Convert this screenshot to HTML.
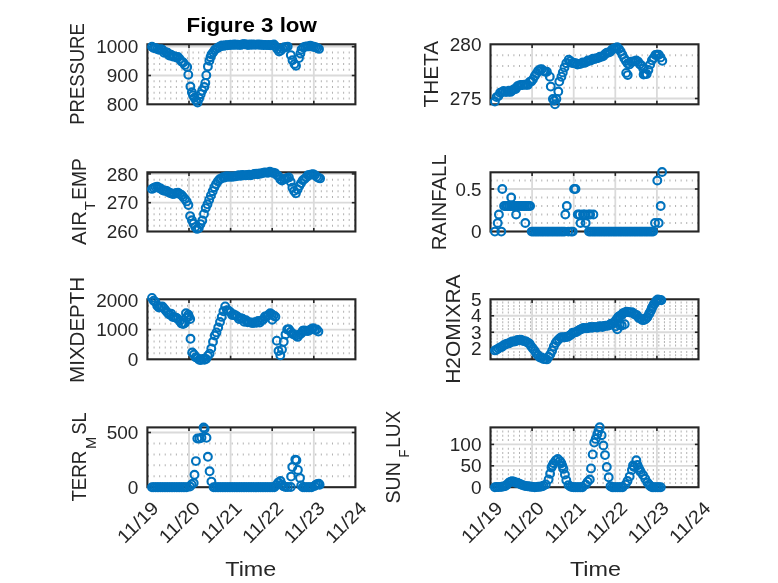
<!DOCTYPE html>
<html><head><meta charset="utf-8"><title>Figure 3 low</title>
<style>
html,body{margin:0;padding:0;background:#fff;}
svg{display:block;font-family:"Liberation Sans",sans-serif;will-change:transform;}
</style></head><body>
<svg width="778" height="583" viewBox="0 0 778 583">
<rect width="778" height="583" fill="#fff"/>
<line x1="148.00" y1="98.54" x2="355.40" y2="98.54" stroke="#b2b2b2" stroke-width="2.0" stroke-dasharray="1.0 4.575" />
<line x1="148.00" y1="92.78" x2="355.40" y2="92.78" stroke="#b2b2b2" stroke-width="2.0" stroke-dasharray="1.0 4.575" />
<line x1="148.00" y1="87.02" x2="355.40" y2="87.02" stroke="#b2b2b2" stroke-width="2.0" stroke-dasharray="1.0 4.575" />
<line x1="148.00" y1="81.26" x2="355.40" y2="81.26" stroke="#b2b2b2" stroke-width="2.0" stroke-dasharray="1.0 4.575" />
<line x1="148.00" y1="69.74" x2="355.40" y2="69.74" stroke="#b2b2b2" stroke-width="2.0" stroke-dasharray="1.0 4.575" />
<line x1="148.00" y1="63.98" x2="355.40" y2="63.98" stroke="#b2b2b2" stroke-width="2.0" stroke-dasharray="1.0 4.575" />
<line x1="148.00" y1="58.22" x2="355.40" y2="58.22" stroke="#b2b2b2" stroke-width="2.0" stroke-dasharray="1.0 4.575" />
<line x1="148.00" y1="52.46" x2="355.40" y2="52.46" stroke="#b2b2b2" stroke-width="2.0" stroke-dasharray="1.0 4.575" />
<line x1="189.00" y1="44.30" x2="189.00" y2="104.30" stroke="#dadada" stroke-width="1.8"/>
<line x1="230.60" y1="44.30" x2="230.60" y2="104.30" stroke="#dadada" stroke-width="1.8"/>
<line x1="272.20" y1="44.30" x2="272.20" y2="104.30" stroke="#dadada" stroke-width="1.8"/>
<line x1="313.80" y1="44.30" x2="313.80" y2="104.30" stroke="#dadada" stroke-width="1.8"/>
<line x1="147.40" y1="46.70" x2="355.40" y2="46.70" stroke="#dadada" stroke-width="1.8"/>
<line x1="147.40" y1="75.50" x2="355.40" y2="75.50" stroke="#dadada" stroke-width="1.8"/>
<rect x="147.40" y="44.30" width="208.00" height="60.00" fill="none" stroke="#262626" stroke-width="2.1"/>
<line x1="189.00" y1="104.30" x2="189.00" y2="100.70" stroke="#262626" stroke-width="1.6"/>
<line x1="189.00" y1="44.30" x2="189.00" y2="47.90" stroke="#262626" stroke-width="1.6"/>
<line x1="230.60" y1="104.30" x2="230.60" y2="100.70" stroke="#262626" stroke-width="1.6"/>
<line x1="230.60" y1="44.30" x2="230.60" y2="47.90" stroke="#262626" stroke-width="1.6"/>
<line x1="272.20" y1="104.30" x2="272.20" y2="100.70" stroke="#262626" stroke-width="1.6"/>
<line x1="272.20" y1="44.30" x2="272.20" y2="47.90" stroke="#262626" stroke-width="1.6"/>
<line x1="313.80" y1="104.30" x2="313.80" y2="100.70" stroke="#262626" stroke-width="1.6"/>
<line x1="313.80" y1="44.30" x2="313.80" y2="47.90" stroke="#262626" stroke-width="1.6"/>
<line x1="147.40" y1="46.70" x2="151.00" y2="46.70" stroke="#262626" stroke-width="1.6"/>
<line x1="355.40" y1="46.70" x2="351.80" y2="46.70" stroke="#262626" stroke-width="1.6"/>
<line x1="147.40" y1="75.50" x2="151.00" y2="75.50" stroke="#262626" stroke-width="1.6"/>
<line x1="355.40" y1="75.50" x2="351.80" y2="75.50" stroke="#262626" stroke-width="1.6"/>
<text x="138.40" y="53.30" text-anchor="end" font-size="18.5" fill="#262626" textLength="42.2" lengthAdjust="spacingAndGlyphs">1000</text>
<text x="138.40" y="82.10" text-anchor="end" font-size="18.5" fill="#262626" textLength="31.7" lengthAdjust="spacingAndGlyphs">900</text>
<text x="138.40" y="110.90" text-anchor="end" font-size="18.5" fill="#262626" textLength="31.7" lengthAdjust="spacingAndGlyphs">800</text>
<g fill="none" stroke="#0072BD" stroke-width="2.1">
<circle cx="152.0" cy="46.8" r="3.9"/>
<circle cx="153.7" cy="48.0" r="3.9"/>
<circle cx="155.5" cy="48.0" r="3.9"/>
<circle cx="157.2" cy="49.1" r="3.9"/>
<circle cx="158.9" cy="49.7" r="3.9"/>
<circle cx="160.7" cy="49.1" r="3.9"/>
<circle cx="162.4" cy="49.8" r="3.9"/>
<circle cx="164.1" cy="52.8" r="3.9"/>
<circle cx="165.9" cy="52.1" r="3.9"/>
<circle cx="167.6" cy="52.8" r="3.9"/>
<circle cx="169.3" cy="55.5" r="3.9"/>
<circle cx="171.1" cy="54.8" r="3.9"/>
<circle cx="172.8" cy="56.5" r="3.9"/>
<circle cx="174.5" cy="56.3" r="3.9"/>
<circle cx="176.3" cy="57.5" r="3.9"/>
<circle cx="178.0" cy="57.0" r="3.9"/>
<circle cx="179.7" cy="59.1" r="3.9"/>
<circle cx="181.5" cy="61.6" r="3.9"/>
<circle cx="183.2" cy="62.5" r="3.9"/>
<circle cx="184.9" cy="64.9" r="3.9"/>
<circle cx="187.2" cy="67.0" r="3.9"/>
<circle cx="188.3" cy="74.7" r="3.9"/>
<circle cx="190.4" cy="86.5" r="3.9"/>
<circle cx="191.9" cy="92.2" r="3.9"/>
<circle cx="193.0" cy="95.3" r="3.9"/>
<circle cx="194.5" cy="97.8" r="3.9"/>
<circle cx="196.1" cy="100.4" r="3.9"/>
<circle cx="197.6" cy="102.5" r="3.9"/>
<circle cx="199.1" cy="98.4" r="3.9"/>
<circle cx="200.7" cy="94.2" r="3.9"/>
<circle cx="202.2" cy="90.6" r="3.9"/>
<circle cx="204.3" cy="87.0" r="3.9"/>
<circle cx="205.3" cy="82.9" r="3.9"/>
<circle cx="206.3" cy="75.2" r="3.9"/>
<circle cx="207.9" cy="66.5" r="3.9"/>
<circle cx="209.4" cy="60.8" r="3.9"/>
<circle cx="210.5" cy="57.2" r="3.9"/>
<circle cx="211.5" cy="54.6" r="3.9"/>
<circle cx="213.2" cy="52.3" r="3.9"/>
<circle cx="214.9" cy="49.8" r="3.9"/>
<circle cx="216.7" cy="48.5" r="3.9"/>
<circle cx="218.4" cy="47.5" r="3.9"/>
<circle cx="220.1" cy="46.5" r="3.9"/>
<circle cx="221.9" cy="45.5" r="3.9"/>
<circle cx="223.6" cy="45.9" r="3.9"/>
<circle cx="225.3" cy="45.3" r="3.9"/>
<circle cx="227.1" cy="45.3" r="3.9"/>
<circle cx="228.8" cy="45.1" r="3.9"/>
<circle cx="230.5" cy="44.8" r="3.9"/>
<circle cx="232.3" cy="44.9" r="3.9"/>
<circle cx="234.0" cy="44.5" r="3.9"/>
<circle cx="235.7" cy="44.8" r="3.9"/>
<circle cx="237.5" cy="44.6" r="3.9"/>
<circle cx="239.2" cy="44.9" r="3.9"/>
<circle cx="240.9" cy="44.9" r="3.9"/>
<circle cx="242.7" cy="44.3" r="3.9"/>
<circle cx="244.4" cy="44.3" r="3.9"/>
<circle cx="246.1" cy="44.4" r="3.9"/>
<circle cx="247.9" cy="45.0" r="3.9"/>
<circle cx="249.6" cy="44.5" r="3.9"/>
<circle cx="251.3" cy="44.7" r="3.9"/>
<circle cx="253.1" cy="44.5" r="3.9"/>
<circle cx="254.8" cy="44.6" r="3.9"/>
<circle cx="256.5" cy="44.6" r="3.9"/>
<circle cx="258.3" cy="44.5" r="3.9"/>
<circle cx="260.0" cy="44.7" r="3.9"/>
<circle cx="261.7" cy="44.8" r="3.9"/>
<circle cx="263.5" cy="45.0" r="3.9"/>
<circle cx="265.2" cy="44.9" r="3.9"/>
<circle cx="266.9" cy="45.1" r="3.9"/>
<circle cx="268.7" cy="45.0" r="3.9"/>
<circle cx="270.4" cy="45.2" r="3.9"/>
<circle cx="272.1" cy="44.9" r="3.9"/>
<circle cx="273.9" cy="44.5" r="3.9"/>
<circle cx="275.6" cy="46.4" r="3.9"/>
<circle cx="277.3" cy="48.9" r="3.9"/>
<circle cx="279.1" cy="51.5" r="3.9"/>
<circle cx="280.8" cy="50.5" r="3.9"/>
<circle cx="282.5" cy="48.4" r="3.9"/>
<circle cx="284.3" cy="47.1" r="3.9"/>
<circle cx="286.0" cy="47.1" r="3.9"/>
<circle cx="287.7" cy="46.6" r="3.9"/>
<circle cx="290.8" cy="55.1" r="3.9"/>
<circle cx="292.5" cy="60.3" r="3.9"/>
<circle cx="294.5" cy="64.0" r="3.9"/>
<circle cx="296.0" cy="65.7" r="3.9"/>
<circle cx="299.0" cy="58.1" r="3.9"/>
<circle cx="300.4" cy="53.5" r="3.9"/>
<circle cx="301.5" cy="49.6" r="3.9"/>
<circle cx="303.4" cy="47.5" r="3.9"/>
<circle cx="305.1" cy="46.6" r="3.9"/>
<circle cx="306.9" cy="46.4" r="3.9"/>
<circle cx="308.6" cy="46.4" r="3.9"/>
<circle cx="310.3" cy="45.7" r="3.9"/>
<circle cx="312.1" cy="46.5" r="3.9"/>
<circle cx="313.8" cy="46.8" r="3.9"/>
<circle cx="315.5" cy="47.2" r="3.9"/>
<circle cx="317.3" cy="48.0" r="3.9"/>
<circle cx="319.0" cy="48.9" r="3.9"/>
</g>
<text transform="translate(84.40,74.00) rotate(-90)" text-anchor="middle" font-size="20.9" fill="#262626" textLength="101.5" lengthAdjust="spacingAndGlyphs">PRESSURE</text>
<line x1="491.10" y1="87.66" x2="698.50" y2="87.66" stroke="#b2b2b2" stroke-width="2.0" stroke-dasharray="1.0 4.575" />
<line x1="491.10" y1="76.82" x2="698.50" y2="76.82" stroke="#b2b2b2" stroke-width="2.0" stroke-dasharray="1.0 4.575" />
<line x1="491.10" y1="65.98" x2="698.50" y2="65.98" stroke="#b2b2b2" stroke-width="2.0" stroke-dasharray="1.0 4.575" />
<line x1="491.10" y1="55.14" x2="698.50" y2="55.14" stroke="#b2b2b2" stroke-width="2.0" stroke-dasharray="1.0 4.575" />
<line x1="532.10" y1="44.30" x2="532.10" y2="104.30" stroke="#dadada" stroke-width="1.8"/>
<line x1="573.70" y1="44.30" x2="573.70" y2="104.30" stroke="#dadada" stroke-width="1.8"/>
<line x1="615.30" y1="44.30" x2="615.30" y2="104.30" stroke="#dadada" stroke-width="1.8"/>
<line x1="656.90" y1="44.30" x2="656.90" y2="104.30" stroke="#dadada" stroke-width="1.8"/>
<line x1="490.50" y1="98.50" x2="698.50" y2="98.50" stroke="#dadada" stroke-width="1.8"/>
<rect x="490.50" y="44.30" width="208.00" height="60.00" fill="none" stroke="#262626" stroke-width="2.1"/>
<line x1="532.10" y1="104.30" x2="532.10" y2="100.70" stroke="#262626" stroke-width="1.6"/>
<line x1="532.10" y1="44.30" x2="532.10" y2="47.90" stroke="#262626" stroke-width="1.6"/>
<line x1="573.70" y1="104.30" x2="573.70" y2="100.70" stroke="#262626" stroke-width="1.6"/>
<line x1="573.70" y1="44.30" x2="573.70" y2="47.90" stroke="#262626" stroke-width="1.6"/>
<line x1="615.30" y1="104.30" x2="615.30" y2="100.70" stroke="#262626" stroke-width="1.6"/>
<line x1="615.30" y1="44.30" x2="615.30" y2="47.90" stroke="#262626" stroke-width="1.6"/>
<line x1="656.90" y1="104.30" x2="656.90" y2="100.70" stroke="#262626" stroke-width="1.6"/>
<line x1="656.90" y1="44.30" x2="656.90" y2="47.90" stroke="#262626" stroke-width="1.6"/>
<line x1="490.50" y1="98.50" x2="494.10" y2="98.50" stroke="#262626" stroke-width="1.6"/>
<line x1="698.50" y1="98.50" x2="694.90" y2="98.50" stroke="#262626" stroke-width="1.6"/>
<text x="481.50" y="50.90" text-anchor="end" font-size="18.5" fill="#262626" textLength="31.7" lengthAdjust="spacingAndGlyphs">280</text>
<text x="481.50" y="105.10" text-anchor="end" font-size="18.5" fill="#262626" textLength="31.7" lengthAdjust="spacingAndGlyphs">275</text>
<g fill="none" stroke="#0072BD" stroke-width="2.1">
<circle cx="494.9" cy="101.5" r="3.9"/>
<circle cx="496.6" cy="97.1" r="3.9"/>
<circle cx="498.4" cy="96.0" r="3.9"/>
<circle cx="500.1" cy="92.7" r="3.9"/>
<circle cx="501.8" cy="92.2" r="3.9"/>
<circle cx="503.6" cy="90.9" r="3.9"/>
<circle cx="505.3" cy="91.9" r="3.9"/>
<circle cx="507.0" cy="91.9" r="3.9"/>
<circle cx="508.8" cy="90.8" r="3.9"/>
<circle cx="510.5" cy="91.9" r="3.9"/>
<circle cx="512.2" cy="90.4" r="3.9"/>
<circle cx="514.0" cy="89.3" r="3.9"/>
<circle cx="515.7" cy="89.0" r="3.9"/>
<circle cx="517.4" cy="86.3" r="3.9"/>
<circle cx="519.2" cy="85.5" r="3.9"/>
<circle cx="520.9" cy="84.9" r="3.9"/>
<circle cx="522.6" cy="85.0" r="3.9"/>
<circle cx="524.4" cy="84.6" r="3.9"/>
<circle cx="526.1" cy="84.8" r="3.9"/>
<circle cx="527.8" cy="84.9" r="3.9"/>
<circle cx="529.6" cy="81.9" r="3.9"/>
<circle cx="531.3" cy="81.4" r="3.9"/>
<circle cx="533.0" cy="79.3" r="3.9"/>
<circle cx="534.8" cy="76.0" r="3.9"/>
<circle cx="536.5" cy="73.4" r="3.9"/>
<circle cx="538.2" cy="70.8" r="3.9"/>
<circle cx="540.0" cy="69.4" r="3.9"/>
<circle cx="541.7" cy="69.2" r="3.9"/>
<circle cx="543.4" cy="70.9" r="3.9"/>
<circle cx="545.2" cy="71.7" r="3.9"/>
<circle cx="546.9" cy="71.7" r="3.9"/>
<circle cx="549.8" cy="76.7" r="3.9"/>
<circle cx="550.8" cy="86.6" r="3.9"/>
<circle cx="552.9" cy="99.0" r="3.9"/>
<circle cx="554.2" cy="100.5" r="3.9"/>
<circle cx="555.0" cy="104.3" r="3.9"/>
<circle cx="556.4" cy="99.0" r="3.9"/>
<circle cx="558.3" cy="91.5" r="3.9"/>
<circle cx="559.3" cy="81.6" r="3.9"/>
<circle cx="561.4" cy="76.7" r="3.9"/>
<circle cx="562.8" cy="72.4" r="3.9"/>
<circle cx="564.5" cy="67.5" r="3.9"/>
<circle cx="566.3" cy="63.2" r="3.9"/>
<circle cx="568.7" cy="59.7" r="3.9"/>
<circle cx="570.4" cy="61.1" r="3.9"/>
<circle cx="572.2" cy="63.1" r="3.9"/>
<circle cx="573.9" cy="62.9" r="3.9"/>
<circle cx="575.6" cy="63.2" r="3.9"/>
<circle cx="577.4" cy="64.6" r="3.9"/>
<circle cx="579.1" cy="63.9" r="3.9"/>
<circle cx="580.8" cy="63.7" r="3.9"/>
<circle cx="582.6" cy="62.5" r="3.9"/>
<circle cx="584.3" cy="62.9" r="3.9"/>
<circle cx="586.0" cy="62.3" r="3.9"/>
<circle cx="587.8" cy="60.5" r="3.9"/>
<circle cx="589.5" cy="60.7" r="3.9"/>
<circle cx="591.2" cy="60.2" r="3.9"/>
<circle cx="593.0" cy="58.6" r="3.9"/>
<circle cx="594.7" cy="59.1" r="3.9"/>
<circle cx="596.4" cy="58.3" r="3.9"/>
<circle cx="598.2" cy="58.1" r="3.9"/>
<circle cx="599.9" cy="56.8" r="3.9"/>
<circle cx="601.6" cy="56.8" r="3.9"/>
<circle cx="603.4" cy="56.1" r="3.9"/>
<circle cx="605.1" cy="54.0" r="3.9"/>
<circle cx="606.8" cy="52.8" r="3.9"/>
<circle cx="608.6" cy="52.6" r="3.9"/>
<circle cx="610.3" cy="51.8" r="3.9"/>
<circle cx="612.0" cy="49.4" r="3.9"/>
<circle cx="613.8" cy="48.7" r="3.9"/>
<circle cx="615.5" cy="47.9" r="3.9"/>
<circle cx="617.2" cy="47.3" r="3.9"/>
<circle cx="619.0" cy="49.1" r="3.9"/>
<circle cx="620.7" cy="51.5" r="3.9"/>
<circle cx="622.4" cy="54.7" r="3.9"/>
<circle cx="624.2" cy="58.3" r="3.9"/>
<circle cx="625.9" cy="60.9" r="3.9"/>
<circle cx="627.6" cy="63.5" r="3.9"/>
<circle cx="629.4" cy="64.4" r="3.9"/>
<circle cx="631.1" cy="61.7" r="3.9"/>
<circle cx="632.8" cy="61.6" r="3.9"/>
<circle cx="634.6" cy="61.2" r="3.9"/>
<circle cx="636.3" cy="60.4" r="3.9"/>
<circle cx="638.0" cy="61.6" r="3.9"/>
<circle cx="639.8" cy="64.2" r="3.9"/>
<circle cx="641.5" cy="65.5" r="3.9"/>
<circle cx="643.2" cy="68.6" r="3.9"/>
<circle cx="645.0" cy="73.9" r="3.9"/>
<circle cx="646.7" cy="74.0" r="3.9"/>
<circle cx="648.4" cy="69.9" r="3.9"/>
<circle cx="650.2" cy="64.5" r="3.9"/>
<circle cx="651.9" cy="60.3" r="3.9"/>
<circle cx="653.6" cy="57.9" r="3.9"/>
<circle cx="655.4" cy="55.0" r="3.9"/>
<circle cx="657.1" cy="54.8" r="3.9"/>
<circle cx="658.8" cy="54.8" r="3.9"/>
<circle cx="660.6" cy="57.4" r="3.9"/>
<circle cx="662.3" cy="60.8" r="3.9"/>
<circle cx="626.2" cy="72.9" r="3.9"/>
<circle cx="627.7" cy="75.1" r="3.9"/>
<circle cx="643.6" cy="74.5" r="3.9"/>
</g>
<text transform="translate(438.10,74.20) rotate(-90)" text-anchor="middle" font-size="20.9" fill="#262626" textLength="66.6" lengthAdjust="spacingAndGlyphs">THETA</text>
<line x1="148.00" y1="225.74" x2="355.40" y2="225.74" stroke="#b2b2b2" stroke-width="2.0" stroke-dasharray="1.0 4.575" />
<line x1="148.00" y1="219.98" x2="355.40" y2="219.98" stroke="#b2b2b2" stroke-width="2.0" stroke-dasharray="1.0 4.575" />
<line x1="148.00" y1="214.22" x2="355.40" y2="214.22" stroke="#b2b2b2" stroke-width="2.0" stroke-dasharray="1.0 4.575" />
<line x1="148.00" y1="208.46" x2="355.40" y2="208.46" stroke="#b2b2b2" stroke-width="2.0" stroke-dasharray="1.0 4.575" />
<line x1="148.00" y1="196.94" x2="355.40" y2="196.94" stroke="#b2b2b2" stroke-width="2.0" stroke-dasharray="1.0 4.575" />
<line x1="148.00" y1="191.18" x2="355.40" y2="191.18" stroke="#b2b2b2" stroke-width="2.0" stroke-dasharray="1.0 4.575" />
<line x1="148.00" y1="185.42" x2="355.40" y2="185.42" stroke="#b2b2b2" stroke-width="2.0" stroke-dasharray="1.0 4.575" />
<line x1="148.00" y1="179.66" x2="355.40" y2="179.66" stroke="#b2b2b2" stroke-width="2.0" stroke-dasharray="1.0 4.575" />
<line x1="189.00" y1="172.30" x2="189.00" y2="231.50" stroke="#dadada" stroke-width="1.8"/>
<line x1="230.60" y1="172.30" x2="230.60" y2="231.50" stroke="#dadada" stroke-width="1.8"/>
<line x1="272.20" y1="172.30" x2="272.20" y2="231.50" stroke="#dadada" stroke-width="1.8"/>
<line x1="313.80" y1="172.30" x2="313.80" y2="231.50" stroke="#dadada" stroke-width="1.8"/>
<line x1="147.40" y1="173.90" x2="355.40" y2="173.90" stroke="#dadada" stroke-width="1.8"/>
<line x1="147.40" y1="202.70" x2="355.40" y2="202.70" stroke="#dadada" stroke-width="1.8"/>
<rect x="147.40" y="172.30" width="208.00" height="59.20" fill="none" stroke="#262626" stroke-width="2.1"/>
<line x1="189.00" y1="231.50" x2="189.00" y2="227.90" stroke="#262626" stroke-width="1.6"/>
<line x1="189.00" y1="172.30" x2="189.00" y2="175.90" stroke="#262626" stroke-width="1.6"/>
<line x1="230.60" y1="231.50" x2="230.60" y2="227.90" stroke="#262626" stroke-width="1.6"/>
<line x1="230.60" y1="172.30" x2="230.60" y2="175.90" stroke="#262626" stroke-width="1.6"/>
<line x1="272.20" y1="231.50" x2="272.20" y2="227.90" stroke="#262626" stroke-width="1.6"/>
<line x1="272.20" y1="172.30" x2="272.20" y2="175.90" stroke="#262626" stroke-width="1.6"/>
<line x1="313.80" y1="231.50" x2="313.80" y2="227.90" stroke="#262626" stroke-width="1.6"/>
<line x1="313.80" y1="172.30" x2="313.80" y2="175.90" stroke="#262626" stroke-width="1.6"/>
<line x1="147.40" y1="173.90" x2="151.00" y2="173.90" stroke="#262626" stroke-width="1.6"/>
<line x1="355.40" y1="173.90" x2="351.80" y2="173.90" stroke="#262626" stroke-width="1.6"/>
<line x1="147.40" y1="202.70" x2="151.00" y2="202.70" stroke="#262626" stroke-width="1.6"/>
<line x1="355.40" y1="202.70" x2="351.80" y2="202.70" stroke="#262626" stroke-width="1.6"/>
<text x="138.40" y="180.50" text-anchor="end" font-size="18.5" fill="#262626" textLength="31.7" lengthAdjust="spacingAndGlyphs">280</text>
<text x="138.40" y="209.30" text-anchor="end" font-size="18.5" fill="#262626" textLength="31.7" lengthAdjust="spacingAndGlyphs">270</text>
<text x="138.40" y="238.10" text-anchor="end" font-size="18.5" fill="#262626" textLength="31.7" lengthAdjust="spacingAndGlyphs">260</text>
<g fill="none" stroke="#0072BD" stroke-width="2.1">
<circle cx="152.0" cy="188.9" r="3.9"/>
<circle cx="153.7" cy="187.9" r="3.9"/>
<circle cx="155.5" cy="187.1" r="3.9"/>
<circle cx="157.2" cy="186.6" r="3.9"/>
<circle cx="158.9" cy="188.0" r="3.9"/>
<circle cx="160.7" cy="188.5" r="3.9"/>
<circle cx="162.4" cy="190.1" r="3.9"/>
<circle cx="164.1" cy="190.8" r="3.9"/>
<circle cx="165.9" cy="190.6" r="3.9"/>
<circle cx="167.6" cy="191.4" r="3.9"/>
<circle cx="169.3" cy="192.7" r="3.9"/>
<circle cx="171.1" cy="193.2" r="3.9"/>
<circle cx="172.8" cy="194.0" r="3.9"/>
<circle cx="174.5" cy="193.7" r="3.9"/>
<circle cx="176.3" cy="193.0" r="3.9"/>
<circle cx="178.0" cy="192.7" r="3.9"/>
<circle cx="179.7" cy="193.9" r="3.9"/>
<circle cx="181.5" cy="195.0" r="3.9"/>
<circle cx="183.2" cy="196.9" r="3.9"/>
<circle cx="184.9" cy="199.1" r="3.9"/>
<circle cx="186.7" cy="201.4" r="3.9"/>
<circle cx="188.4" cy="205.1" r="3.9"/>
<circle cx="190.1" cy="216.1" r="3.9"/>
<circle cx="191.9" cy="220.3" r="3.9"/>
<circle cx="193.6" cy="223.7" r="3.9"/>
<circle cx="195.3" cy="227.1" r="3.9"/>
<circle cx="197.1" cy="228.9" r="3.9"/>
<circle cx="198.8" cy="227.9" r="3.9"/>
<circle cx="200.5" cy="224.1" r="3.9"/>
<circle cx="202.3" cy="220.5" r="3.9"/>
<circle cx="204.0" cy="213.9" r="3.9"/>
<circle cx="205.7" cy="208.1" r="3.9"/>
<circle cx="207.5" cy="204.3" r="3.9"/>
<circle cx="209.2" cy="199.7" r="3.9"/>
<circle cx="210.9" cy="195.4" r="3.9"/>
<circle cx="212.7" cy="191.2" r="3.9"/>
<circle cx="214.4" cy="187.2" r="3.9"/>
<circle cx="216.1" cy="184.0" r="3.9"/>
<circle cx="217.9" cy="181.2" r="3.9"/>
<circle cx="219.6" cy="179.2" r="3.9"/>
<circle cx="221.3" cy="178.4" r="3.9"/>
<circle cx="223.1" cy="177.3" r="3.9"/>
<circle cx="224.8" cy="177.5" r="3.9"/>
<circle cx="226.5" cy="176.1" r="3.9"/>
<circle cx="228.3" cy="176.8" r="3.9"/>
<circle cx="230.0" cy="176.5" r="3.9"/>
<circle cx="231.7" cy="176.7" r="3.9"/>
<circle cx="233.5" cy="176.5" r="3.9"/>
<circle cx="235.2" cy="176.4" r="3.9"/>
<circle cx="236.9" cy="175.9" r="3.9"/>
<circle cx="238.7" cy="175.1" r="3.9"/>
<circle cx="240.4" cy="175.9" r="3.9"/>
<circle cx="242.1" cy="175.0" r="3.9"/>
<circle cx="243.9" cy="175.1" r="3.9"/>
<circle cx="245.6" cy="175.4" r="3.9"/>
<circle cx="247.3" cy="175.0" r="3.9"/>
<circle cx="249.1" cy="174.8" r="3.9"/>
<circle cx="250.8" cy="175.2" r="3.9"/>
<circle cx="252.5" cy="174.6" r="3.9"/>
<circle cx="254.3" cy="174.0" r="3.9"/>
<circle cx="256.0" cy="173.7" r="3.9"/>
<circle cx="257.7" cy="174.2" r="3.9"/>
<circle cx="259.5" cy="173.5" r="3.9"/>
<circle cx="261.2" cy="173.6" r="3.9"/>
<circle cx="262.9" cy="172.9" r="3.9"/>
<circle cx="264.7" cy="172.4" r="3.9"/>
<circle cx="266.4" cy="172.6" r="3.9"/>
<circle cx="268.1" cy="172.7" r="3.9"/>
<circle cx="269.9" cy="171.8" r="3.9"/>
<circle cx="271.6" cy="172.6" r="3.9"/>
<circle cx="273.3" cy="172.7" r="3.9"/>
<circle cx="275.1" cy="173.1" r="3.9"/>
<circle cx="276.8" cy="175.1" r="3.9"/>
<circle cx="278.5" cy="176.2" r="3.9"/>
<circle cx="280.3" cy="179.2" r="3.9"/>
<circle cx="282.0" cy="180.5" r="3.9"/>
<circle cx="283.7" cy="179.1" r="3.9"/>
<circle cx="285.5" cy="178.8" r="3.9"/>
<circle cx="287.2" cy="178.0" r="3.9"/>
<circle cx="288.9" cy="177.4" r="3.9"/>
<circle cx="290.7" cy="181.8" r="3.9"/>
<circle cx="292.4" cy="187.7" r="3.9"/>
<circle cx="294.1" cy="191.0" r="3.9"/>
<circle cx="295.9" cy="193.3" r="3.9"/>
<circle cx="297.6" cy="189.4" r="3.9"/>
<circle cx="299.3" cy="185.9" r="3.9"/>
<circle cx="301.1" cy="183.1" r="3.9"/>
<circle cx="302.8" cy="180.3" r="3.9"/>
<circle cx="304.5" cy="179.1" r="3.9"/>
<circle cx="306.3" cy="177.2" r="3.9"/>
<circle cx="308.0" cy="175.3" r="3.9"/>
<circle cx="309.7" cy="174.9" r="3.9"/>
<circle cx="311.5" cy="174.4" r="3.9"/>
<circle cx="313.2" cy="174.2" r="3.9"/>
<circle cx="314.9" cy="175.1" r="3.9"/>
<circle cx="316.7" cy="176.8" r="3.9"/>
<circle cx="318.4" cy="177.8" r="3.9"/>
<circle cx="320.1" cy="178.4" r="3.9"/>
</g>
<text transform="translate(86.1,201.6) rotate(-90)" font-size="20.9" fill="#262626"><tspan x="-43.4" textLength="34" lengthAdjust="spacingAndGlyphs">AIR</tspan><tspan x="-8.6" dy="9.3" font-size="15.5" textLength="9" lengthAdjust="spacingAndGlyphs">T</tspan><tspan x="1.9" dy="-9.3" textLength="41.6" lengthAdjust="spacingAndGlyphs">EMP</tspan></text>
<line x1="491.10" y1="223.04" x2="698.50" y2="223.04" stroke="#b2b2b2" stroke-width="2.0" stroke-dasharray="1.0 4.575" />
<line x1="491.10" y1="214.53" x2="698.50" y2="214.53" stroke="#b2b2b2" stroke-width="2.0" stroke-dasharray="1.0 4.575" />
<line x1="491.10" y1="206.02" x2="698.50" y2="206.02" stroke="#b2b2b2" stroke-width="2.0" stroke-dasharray="1.0 4.575" />
<line x1="491.10" y1="197.51" x2="698.50" y2="197.51" stroke="#b2b2b2" stroke-width="2.0" stroke-dasharray="1.0 4.575" />
<line x1="491.10" y1="180.49" x2="698.50" y2="180.49" stroke="#b2b2b2" stroke-width="2.0" stroke-dasharray="1.0 4.575" />
<line x1="532.10" y1="172.30" x2="532.10" y2="231.50" stroke="#dadada" stroke-width="1.8"/>
<line x1="573.70" y1="172.30" x2="573.70" y2="231.50" stroke="#dadada" stroke-width="1.8"/>
<line x1="615.30" y1="172.30" x2="615.30" y2="231.50" stroke="#dadada" stroke-width="1.8"/>
<line x1="656.90" y1="172.30" x2="656.90" y2="231.50" stroke="#dadada" stroke-width="1.8"/>
<line x1="490.50" y1="189.00" x2="698.50" y2="189.00" stroke="#dadada" stroke-width="1.8"/>
<rect x="490.50" y="172.30" width="208.00" height="59.20" fill="none" stroke="#262626" stroke-width="2.1"/>
<line x1="532.10" y1="231.50" x2="532.10" y2="227.90" stroke="#262626" stroke-width="1.6"/>
<line x1="532.10" y1="172.30" x2="532.10" y2="175.90" stroke="#262626" stroke-width="1.6"/>
<line x1="573.70" y1="231.50" x2="573.70" y2="227.90" stroke="#262626" stroke-width="1.6"/>
<line x1="573.70" y1="172.30" x2="573.70" y2="175.90" stroke="#262626" stroke-width="1.6"/>
<line x1="615.30" y1="231.50" x2="615.30" y2="227.90" stroke="#262626" stroke-width="1.6"/>
<line x1="615.30" y1="172.30" x2="615.30" y2="175.90" stroke="#262626" stroke-width="1.6"/>
<line x1="656.90" y1="231.50" x2="656.90" y2="227.90" stroke="#262626" stroke-width="1.6"/>
<line x1="656.90" y1="172.30" x2="656.90" y2="175.90" stroke="#262626" stroke-width="1.6"/>
<line x1="490.50" y1="189.00" x2="494.10" y2="189.00" stroke="#262626" stroke-width="1.6"/>
<line x1="698.50" y1="189.00" x2="694.90" y2="189.00" stroke="#262626" stroke-width="1.6"/>
<text x="481.50" y="195.60" text-anchor="end" font-size="18.5" fill="#262626" textLength="26.0" lengthAdjust="spacingAndGlyphs">0.5</text>
<text x="481.50" y="238.15" text-anchor="end" font-size="18.5" fill="#262626" textLength="10.6" lengthAdjust="spacingAndGlyphs">0</text>
<g fill="none" stroke="#0072BD" stroke-width="2.1">
<circle cx="494.9" cy="231.6" r="3.9"/>
<circle cx="501.3" cy="231.6" r="3.9"/>
<circle cx="497.7" cy="223.0" r="3.9"/>
<circle cx="498.9" cy="214.5" r="3.9"/>
<circle cx="502.3" cy="189.0" r="3.9"/>
<circle cx="511.2" cy="197.5" r="3.9"/>
<circle cx="516.1" cy="214.5" r="3.9"/>
<circle cx="525.3" cy="223.0" r="3.9"/>
<circle cx="504.1" cy="206.0" r="3.9"/>
<circle cx="505.8" cy="206.0" r="3.9"/>
<circle cx="507.6" cy="206.0" r="3.9"/>
<circle cx="509.3" cy="206.0" r="3.9"/>
<circle cx="511.0" cy="206.0" r="3.9"/>
<circle cx="512.8" cy="206.0" r="3.9"/>
<circle cx="514.5" cy="206.0" r="3.9"/>
<circle cx="516.2" cy="206.0" r="3.9"/>
<circle cx="518.0" cy="206.0" r="3.9"/>
<circle cx="519.7" cy="206.0" r="3.9"/>
<circle cx="521.4" cy="206.0" r="3.9"/>
<circle cx="523.2" cy="206.0" r="3.9"/>
<circle cx="524.9" cy="206.0" r="3.9"/>
<circle cx="526.6" cy="206.0" r="3.9"/>
<circle cx="528.4" cy="206.0" r="3.9"/>
<circle cx="530.1" cy="206.0" r="3.9"/>
<circle cx="531.7" cy="231.6" r="3.9"/>
<circle cx="533.4" cy="231.6" r="3.9"/>
<circle cx="535.2" cy="231.6" r="3.9"/>
<circle cx="536.9" cy="231.6" r="3.9"/>
<circle cx="538.6" cy="231.6" r="3.9"/>
<circle cx="540.4" cy="231.6" r="3.9"/>
<circle cx="542.1" cy="231.6" r="3.9"/>
<circle cx="543.8" cy="231.6" r="3.9"/>
<circle cx="545.6" cy="231.6" r="3.9"/>
<circle cx="547.3" cy="231.6" r="3.9"/>
<circle cx="549.0" cy="231.6" r="3.9"/>
<circle cx="550.8" cy="231.6" r="3.9"/>
<circle cx="552.5" cy="231.6" r="3.9"/>
<circle cx="554.2" cy="231.6" r="3.9"/>
<circle cx="556.0" cy="231.6" r="3.9"/>
<circle cx="557.7" cy="231.6" r="3.9"/>
<circle cx="559.4" cy="231.6" r="3.9"/>
<circle cx="561.2" cy="231.6" r="3.9"/>
<circle cx="562.9" cy="231.6" r="3.9"/>
<circle cx="564.6" cy="231.6" r="3.9"/>
<circle cx="568.3" cy="231.6" r="3.9"/>
<circle cx="572.7" cy="231.6" r="3.9"/>
<circle cx="571.0" cy="231.6" r="3.9"/>
<circle cx="566.8" cy="206.0" r="3.9"/>
<circle cx="565.3" cy="214.5" r="3.9"/>
<circle cx="574.1" cy="189.0" r="3.9"/>
<circle cx="575.5" cy="189.0" r="3.9"/>
<circle cx="577.8" cy="214.5" r="3.9"/>
<circle cx="579.6" cy="214.5" r="3.9"/>
<circle cx="583.0" cy="214.5" r="3.9"/>
<circle cx="584.8" cy="214.5" r="3.9"/>
<circle cx="588.5" cy="214.5" r="3.9"/>
<circle cx="590.2" cy="214.5" r="3.9"/>
<circle cx="593.4" cy="214.5" r="3.9"/>
<circle cx="580.5" cy="223.0" r="3.9"/>
<circle cx="585.7" cy="223.0" r="3.9"/>
<circle cx="589.0" cy="231.6" r="3.9"/>
<circle cx="590.7" cy="231.6" r="3.9"/>
<circle cx="592.5" cy="231.6" r="3.9"/>
<circle cx="594.2" cy="231.6" r="3.9"/>
<circle cx="595.9" cy="231.6" r="3.9"/>
<circle cx="597.7" cy="231.6" r="3.9"/>
<circle cx="599.4" cy="231.6" r="3.9"/>
<circle cx="601.1" cy="231.6" r="3.9"/>
<circle cx="602.9" cy="231.6" r="3.9"/>
<circle cx="604.6" cy="231.6" r="3.9"/>
<circle cx="606.3" cy="231.6" r="3.9"/>
<circle cx="608.1" cy="231.6" r="3.9"/>
<circle cx="609.8" cy="231.6" r="3.9"/>
<circle cx="611.5" cy="231.6" r="3.9"/>
<circle cx="613.3" cy="231.6" r="3.9"/>
<circle cx="615.0" cy="231.6" r="3.9"/>
<circle cx="616.7" cy="231.6" r="3.9"/>
<circle cx="618.5" cy="231.6" r="3.9"/>
<circle cx="620.2" cy="231.6" r="3.9"/>
<circle cx="621.9" cy="231.6" r="3.9"/>
<circle cx="623.7" cy="231.6" r="3.9"/>
<circle cx="625.4" cy="231.6" r="3.9"/>
<circle cx="627.1" cy="231.6" r="3.9"/>
<circle cx="628.9" cy="231.6" r="3.9"/>
<circle cx="630.6" cy="231.6" r="3.9"/>
<circle cx="632.3" cy="231.6" r="3.9"/>
<circle cx="634.1" cy="231.6" r="3.9"/>
<circle cx="635.8" cy="231.6" r="3.9"/>
<circle cx="637.5" cy="231.6" r="3.9"/>
<circle cx="639.3" cy="231.6" r="3.9"/>
<circle cx="641.0" cy="231.6" r="3.9"/>
<circle cx="642.7" cy="231.6" r="3.9"/>
<circle cx="644.5" cy="231.6" r="3.9"/>
<circle cx="646.2" cy="231.6" r="3.9"/>
<circle cx="647.9" cy="231.6" r="3.9"/>
<circle cx="649.7" cy="231.6" r="3.9"/>
<circle cx="651.4" cy="231.6" r="3.9"/>
<circle cx="653.1" cy="231.6" r="3.9"/>
<circle cx="655.0" cy="223.0" r="3.9"/>
<circle cx="658.7" cy="223.0" r="3.9"/>
<circle cx="660.7" cy="206.0" r="3.9"/>
<circle cx="657.3" cy="180.5" r="3.9"/>
<circle cx="662.1" cy="172.0" r="3.9"/>
</g>
<text transform="translate(445.60,202.30) rotate(-90)" text-anchor="middle" font-size="20.9" fill="#262626" textLength="96.0" lengthAdjust="spacingAndGlyphs">RAINFALL</text>
<line x1="148.00" y1="353.36" x2="355.40" y2="353.36" stroke="#b2b2b2" stroke-width="2.0" stroke-dasharray="1.0 4.575" />
<line x1="148.00" y1="347.42" x2="355.40" y2="347.42" stroke="#b2b2b2" stroke-width="2.0" stroke-dasharray="1.0 4.575" />
<line x1="148.00" y1="341.48" x2="355.40" y2="341.48" stroke="#b2b2b2" stroke-width="2.0" stroke-dasharray="1.0 4.575" />
<line x1="148.00" y1="335.54" x2="355.40" y2="335.54" stroke="#b2b2b2" stroke-width="2.0" stroke-dasharray="1.0 4.575" />
<line x1="148.00" y1="323.66" x2="355.40" y2="323.66" stroke="#b2b2b2" stroke-width="2.0" stroke-dasharray="1.0 4.575" />
<line x1="148.00" y1="317.72" x2="355.40" y2="317.72" stroke="#b2b2b2" stroke-width="2.0" stroke-dasharray="1.0 4.575" />
<line x1="148.00" y1="311.78" x2="355.40" y2="311.78" stroke="#b2b2b2" stroke-width="2.0" stroke-dasharray="1.0 4.575" />
<line x1="148.00" y1="305.84" x2="355.40" y2="305.84" stroke="#b2b2b2" stroke-width="2.0" stroke-dasharray="1.0 4.575" />
<line x1="189.00" y1="299.30" x2="189.00" y2="359.30" stroke="#dadada" stroke-width="1.8"/>
<line x1="230.60" y1="299.30" x2="230.60" y2="359.30" stroke="#dadada" stroke-width="1.8"/>
<line x1="272.20" y1="299.30" x2="272.20" y2="359.30" stroke="#dadada" stroke-width="1.8"/>
<line x1="313.80" y1="299.30" x2="313.80" y2="359.30" stroke="#dadada" stroke-width="1.8"/>
<line x1="147.40" y1="329.60" x2="355.40" y2="329.60" stroke="#dadada" stroke-width="1.8"/>
<rect x="147.40" y="299.30" width="208.00" height="60.00" fill="none" stroke="#262626" stroke-width="2.1"/>
<line x1="189.00" y1="359.30" x2="189.00" y2="355.70" stroke="#262626" stroke-width="1.6"/>
<line x1="189.00" y1="299.30" x2="189.00" y2="302.90" stroke="#262626" stroke-width="1.6"/>
<line x1="230.60" y1="359.30" x2="230.60" y2="355.70" stroke="#262626" stroke-width="1.6"/>
<line x1="230.60" y1="299.30" x2="230.60" y2="302.90" stroke="#262626" stroke-width="1.6"/>
<line x1="272.20" y1="359.30" x2="272.20" y2="355.70" stroke="#262626" stroke-width="1.6"/>
<line x1="272.20" y1="299.30" x2="272.20" y2="302.90" stroke="#262626" stroke-width="1.6"/>
<line x1="313.80" y1="359.30" x2="313.80" y2="355.70" stroke="#262626" stroke-width="1.6"/>
<line x1="313.80" y1="299.30" x2="313.80" y2="302.90" stroke="#262626" stroke-width="1.6"/>
<line x1="147.40" y1="329.60" x2="151.00" y2="329.60" stroke="#262626" stroke-width="1.6"/>
<line x1="355.40" y1="329.60" x2="351.80" y2="329.60" stroke="#262626" stroke-width="1.6"/>
<text x="138.40" y="306.50" text-anchor="end" font-size="18.5" fill="#262626" textLength="42.2" lengthAdjust="spacingAndGlyphs">2000</text>
<text x="138.40" y="336.20" text-anchor="end" font-size="18.5" fill="#262626" textLength="42.2" lengthAdjust="spacingAndGlyphs">1000</text>
<text x="138.40" y="365.90" text-anchor="end" font-size="18.5" fill="#262626" textLength="10.6" lengthAdjust="spacingAndGlyphs">0</text>
<g fill="none" stroke="#0072BD" stroke-width="2.1">
<circle cx="152.0" cy="297.9" r="3.9"/>
<circle cx="153.7" cy="300.7" r="3.9"/>
<circle cx="155.5" cy="301.9" r="3.9"/>
<circle cx="157.2" cy="305.8" r="3.9"/>
<circle cx="158.9" cy="307.5" r="3.9"/>
<circle cx="160.7" cy="306.7" r="3.9"/>
<circle cx="162.4" cy="306.4" r="3.9"/>
<circle cx="164.1" cy="308.4" r="3.9"/>
<circle cx="165.9" cy="310.7" r="3.9"/>
<circle cx="167.6" cy="312.8" r="3.9"/>
<circle cx="169.3" cy="314.6" r="3.9"/>
<circle cx="171.1" cy="313.6" r="3.9"/>
<circle cx="172.8" cy="316.9" r="3.9"/>
<circle cx="174.5" cy="317.3" r="3.9"/>
<circle cx="176.3" cy="317.7" r="3.9"/>
<circle cx="178.0" cy="318.9" r="3.9"/>
<circle cx="179.7" cy="320.9" r="3.9"/>
<circle cx="181.5" cy="323.4" r="3.9"/>
<circle cx="183.2" cy="324.1" r="3.9"/>
<circle cx="184.9" cy="323.0" r="3.9"/>
<circle cx="186.7" cy="317.6" r="3.9"/>
<circle cx="188.4" cy="314.7" r="3.9"/>
<circle cx="186.0" cy="313.3" r="3.9"/>
<circle cx="188.8" cy="316.8" r="3.9"/>
<circle cx="190.2" cy="319.0" r="3.9"/>
<circle cx="190.5" cy="338.8" r="3.9"/>
<circle cx="192.2" cy="352.5" r="3.9"/>
<circle cx="194.0" cy="354.5" r="3.9"/>
<circle cx="195.7" cy="357.2" r="3.9"/>
<circle cx="197.4" cy="358.1" r="3.9"/>
<circle cx="199.2" cy="359.7" r="3.9"/>
<circle cx="200.9" cy="360.1" r="3.9"/>
<circle cx="202.6" cy="358.9" r="3.9"/>
<circle cx="204.4" cy="359.8" r="3.9"/>
<circle cx="206.1" cy="359.0" r="3.9"/>
<circle cx="207.8" cy="355.9" r="3.9"/>
<circle cx="209.6" cy="353.7" r="3.9"/>
<circle cx="211.3" cy="348.5" r="3.9"/>
<circle cx="213.0" cy="341.8" r="3.9"/>
<circle cx="214.8" cy="335.6" r="3.9"/>
<circle cx="216.5" cy="332.4" r="3.9"/>
<circle cx="218.2" cy="327.5" r="3.9"/>
<circle cx="220.0" cy="322.0" r="3.9"/>
<circle cx="221.7" cy="316.9" r="3.9"/>
<circle cx="223.4" cy="311.3" r="3.9"/>
<circle cx="225.2" cy="306.4" r="3.9"/>
<circle cx="226.9" cy="310.2" r="3.9"/>
<circle cx="228.6" cy="310.7" r="3.9"/>
<circle cx="230.4" cy="312.3" r="3.9"/>
<circle cx="232.1" cy="315.1" r="3.9"/>
<circle cx="233.8" cy="314.5" r="3.9"/>
<circle cx="235.6" cy="315.5" r="3.9"/>
<circle cx="237.3" cy="316.4" r="3.9"/>
<circle cx="239.0" cy="319.1" r="3.9"/>
<circle cx="240.8" cy="318.3" r="3.9"/>
<circle cx="242.5" cy="318.8" r="3.9"/>
<circle cx="244.2" cy="321.7" r="3.9"/>
<circle cx="246.0" cy="320.3" r="3.9"/>
<circle cx="247.7" cy="322.3" r="3.9"/>
<circle cx="249.4" cy="322.1" r="3.9"/>
<circle cx="251.2" cy="322.7" r="3.9"/>
<circle cx="252.9" cy="323.1" r="3.9"/>
<circle cx="254.6" cy="322.2" r="3.9"/>
<circle cx="256.4" cy="322.7" r="3.9"/>
<circle cx="258.1" cy="320.9" r="3.9"/>
<circle cx="259.8" cy="322.6" r="3.9"/>
<circle cx="261.6" cy="320.5" r="3.9"/>
<circle cx="263.3" cy="319.6" r="3.9"/>
<circle cx="265.0" cy="316.5" r="3.9"/>
<circle cx="266.8" cy="316.3" r="3.9"/>
<circle cx="268.5" cy="315.0" r="3.9"/>
<circle cx="270.2" cy="313.3" r="3.9"/>
<circle cx="272.0" cy="314.5" r="3.9"/>
<circle cx="273.7" cy="315.6" r="3.9"/>
<circle cx="275.4" cy="316.7" r="3.9"/>
<circle cx="272.3" cy="319.7" r="3.9"/>
<circle cx="276.8" cy="340.7" r="3.9"/>
<circle cx="278.5" cy="351.0" r="3.9"/>
<circle cx="280.3" cy="355.3" r="3.9"/>
<circle cx="282.0" cy="349.6" r="3.9"/>
<circle cx="283.7" cy="341.8" r="3.9"/>
<circle cx="285.5" cy="334.5" r="3.9"/>
<circle cx="287.2" cy="329.4" r="3.9"/>
<circle cx="288.9" cy="329.3" r="3.9"/>
<circle cx="290.7" cy="331.8" r="3.9"/>
<circle cx="292.4" cy="333.7" r="3.9"/>
<circle cx="294.1" cy="334.5" r="3.9"/>
<circle cx="295.9" cy="335.6" r="3.9"/>
<circle cx="297.6" cy="336.9" r="3.9"/>
<circle cx="299.3" cy="334.7" r="3.9"/>
<circle cx="301.1" cy="333.6" r="3.9"/>
<circle cx="302.8" cy="330.7" r="3.9"/>
<circle cx="304.5" cy="330.5" r="3.9"/>
<circle cx="306.3" cy="330.9" r="3.9"/>
<circle cx="308.0" cy="331.1" r="3.9"/>
<circle cx="309.7" cy="330.1" r="3.9"/>
<circle cx="311.5" cy="328.9" r="3.9"/>
<circle cx="313.2" cy="328.3" r="3.9"/>
<circle cx="314.9" cy="329.8" r="3.9"/>
<circle cx="316.7" cy="329.4" r="3.9"/>
<circle cx="318.4" cy="331.5" r="3.9"/>
</g>
<text transform="translate(83.80,329.90) rotate(-90)" text-anchor="middle" font-size="20.9" fill="#262626" textLength="106.0" lengthAdjust="spacingAndGlyphs">MIXDEPTH</text>
<line x1="491.10" y1="302.59" x2="698.50" y2="302.59" stroke="#b2b2b2" stroke-width="2.0" stroke-dasharray="1.0 4.575" />
<line x1="491.10" y1="305.89" x2="698.50" y2="305.89" stroke="#b2b2b2" stroke-width="2.0" stroke-dasharray="1.0 4.575" />
<line x1="491.10" y1="309.18" x2="698.50" y2="309.18" stroke="#b2b2b2" stroke-width="2.0" stroke-dasharray="1.0 4.575" />
<line x1="491.10" y1="312.48" x2="698.50" y2="312.48" stroke="#b2b2b2" stroke-width="2.0" stroke-dasharray="1.0 4.575" />
<line x1="491.10" y1="319.06" x2="698.50" y2="319.06" stroke="#b2b2b2" stroke-width="2.0" stroke-dasharray="1.0 4.575" />
<line x1="491.10" y1="322.36" x2="698.50" y2="322.36" stroke="#b2b2b2" stroke-width="2.0" stroke-dasharray="1.0 4.575" />
<line x1="491.10" y1="325.65" x2="698.50" y2="325.65" stroke="#b2b2b2" stroke-width="2.0" stroke-dasharray="1.0 4.575" />
<line x1="491.10" y1="328.95" x2="698.50" y2="328.95" stroke="#b2b2b2" stroke-width="2.0" stroke-dasharray="1.0 4.575" />
<line x1="491.10" y1="335.53" x2="698.50" y2="335.53" stroke="#b2b2b2" stroke-width="2.0" stroke-dasharray="1.0 4.575" />
<line x1="491.10" y1="338.83" x2="698.50" y2="338.83" stroke="#b2b2b2" stroke-width="2.0" stroke-dasharray="1.0 4.575" />
<line x1="491.10" y1="342.12" x2="698.50" y2="342.12" stroke="#b2b2b2" stroke-width="2.0" stroke-dasharray="1.0 4.575" />
<line x1="491.10" y1="345.42" x2="698.50" y2="345.42" stroke="#b2b2b2" stroke-width="2.0" stroke-dasharray="1.0 4.575" />
<line x1="491.10" y1="352.00" x2="698.50" y2="352.00" stroke="#b2b2b2" stroke-width="2.0" stroke-dasharray="1.0 4.575" />
<line x1="491.10" y1="355.30" x2="698.50" y2="355.30" stroke="#b2b2b2" stroke-width="2.0" stroke-dasharray="1.0 4.575" />
<line x1="491.10" y1="358.59" x2="698.50" y2="358.59" stroke="#b2b2b2" stroke-width="2.0" stroke-dasharray="1.0 4.575" />
<line x1="532.10" y1="299.30" x2="532.10" y2="359.30" stroke="#dadada" stroke-width="1.8"/>
<line x1="573.70" y1="299.30" x2="573.70" y2="359.30" stroke="#dadada" stroke-width="1.8"/>
<line x1="615.30" y1="299.30" x2="615.30" y2="359.30" stroke="#dadada" stroke-width="1.8"/>
<line x1="656.90" y1="299.30" x2="656.90" y2="359.30" stroke="#dadada" stroke-width="1.8"/>
<line x1="490.50" y1="315.77" x2="698.50" y2="315.77" stroke="#dadada" stroke-width="1.8"/>
<line x1="490.50" y1="332.24" x2="698.50" y2="332.24" stroke="#dadada" stroke-width="1.8"/>
<line x1="490.50" y1="348.71" x2="698.50" y2="348.71" stroke="#dadada" stroke-width="1.8"/>
<rect x="490.50" y="299.30" width="208.00" height="60.00" fill="none" stroke="#262626" stroke-width="2.1"/>
<line x1="532.10" y1="359.30" x2="532.10" y2="355.70" stroke="#262626" stroke-width="1.6"/>
<line x1="532.10" y1="299.30" x2="532.10" y2="302.90" stroke="#262626" stroke-width="1.6"/>
<line x1="573.70" y1="359.30" x2="573.70" y2="355.70" stroke="#262626" stroke-width="1.6"/>
<line x1="573.70" y1="299.30" x2="573.70" y2="302.90" stroke="#262626" stroke-width="1.6"/>
<line x1="615.30" y1="359.30" x2="615.30" y2="355.70" stroke="#262626" stroke-width="1.6"/>
<line x1="615.30" y1="299.30" x2="615.30" y2="302.90" stroke="#262626" stroke-width="1.6"/>
<line x1="656.90" y1="359.30" x2="656.90" y2="355.70" stroke="#262626" stroke-width="1.6"/>
<line x1="656.90" y1="299.30" x2="656.90" y2="302.90" stroke="#262626" stroke-width="1.6"/>
<line x1="490.50" y1="315.77" x2="494.10" y2="315.77" stroke="#262626" stroke-width="1.6"/>
<line x1="698.50" y1="315.77" x2="694.90" y2="315.77" stroke="#262626" stroke-width="1.6"/>
<line x1="490.50" y1="332.24" x2="494.10" y2="332.24" stroke="#262626" stroke-width="1.6"/>
<line x1="698.50" y1="332.24" x2="694.90" y2="332.24" stroke="#262626" stroke-width="1.6"/>
<line x1="490.50" y1="348.71" x2="494.10" y2="348.71" stroke="#262626" stroke-width="1.6"/>
<line x1="698.50" y1="348.71" x2="694.90" y2="348.71" stroke="#262626" stroke-width="1.6"/>
<text x="481.50" y="305.90" text-anchor="end" font-size="18.5" fill="#262626" textLength="10.6" lengthAdjust="spacingAndGlyphs">5</text>
<text x="481.50" y="322.37" text-anchor="end" font-size="18.5" fill="#262626" textLength="10.6" lengthAdjust="spacingAndGlyphs">4</text>
<text x="481.50" y="338.84" text-anchor="end" font-size="18.5" fill="#262626" textLength="10.6" lengthAdjust="spacingAndGlyphs">3</text>
<text x="481.50" y="355.31" text-anchor="end" font-size="18.5" fill="#262626" textLength="10.6" lengthAdjust="spacingAndGlyphs">2</text>
<g fill="none" stroke="#0072BD" stroke-width="2.1">
<circle cx="494.9" cy="350.4" r="3.9"/>
<circle cx="496.6" cy="349.8" r="3.9"/>
<circle cx="498.4" cy="348.4" r="3.9"/>
<circle cx="500.1" cy="347.4" r="3.9"/>
<circle cx="501.8" cy="346.9" r="3.9"/>
<circle cx="503.6" cy="345.3" r="3.9"/>
<circle cx="505.3" cy="344.5" r="3.9"/>
<circle cx="507.0" cy="343.6" r="3.9"/>
<circle cx="508.8" cy="343.4" r="3.9"/>
<circle cx="510.5" cy="342.3" r="3.9"/>
<circle cx="512.2" cy="341.5" r="3.9"/>
<circle cx="514.0" cy="341.5" r="3.9"/>
<circle cx="515.7" cy="341.3" r="3.9"/>
<circle cx="517.4" cy="339.9" r="3.9"/>
<circle cx="519.2" cy="340.1" r="3.9"/>
<circle cx="520.9" cy="339.6" r="3.9"/>
<circle cx="522.6" cy="340.8" r="3.9"/>
<circle cx="524.4" cy="341.1" r="3.9"/>
<circle cx="526.1" cy="341.4" r="3.9"/>
<circle cx="527.8" cy="342.7" r="3.9"/>
<circle cx="529.6" cy="343.8" r="3.9"/>
<circle cx="531.3" cy="346.5" r="3.9"/>
<circle cx="533.0" cy="348.8" r="3.9"/>
<circle cx="534.8" cy="351.0" r="3.9"/>
<circle cx="536.5" cy="353.7" r="3.9"/>
<circle cx="538.2" cy="355.5" r="3.9"/>
<circle cx="540.0" cy="357.5" r="3.9"/>
<circle cx="541.7" cy="357.5" r="3.9"/>
<circle cx="543.4" cy="359.1" r="3.9"/>
<circle cx="545.2" cy="358.8" r="3.9"/>
<circle cx="546.9" cy="359.4" r="3.9"/>
<circle cx="548.6" cy="356.8" r="3.9"/>
<circle cx="550.4" cy="354.2" r="3.9"/>
<circle cx="552.1" cy="350.7" r="3.9"/>
<circle cx="553.8" cy="346.5" r="3.9"/>
<circle cx="555.6" cy="342.9" r="3.9"/>
<circle cx="557.3" cy="340.8" r="3.9"/>
<circle cx="559.0" cy="339.0" r="3.9"/>
<circle cx="560.8" cy="337.5" r="3.9"/>
<circle cx="562.5" cy="337.1" r="3.9"/>
<circle cx="564.2" cy="337.4" r="3.9"/>
<circle cx="566.0" cy="336.9" r="3.9"/>
<circle cx="567.7" cy="336.8" r="3.9"/>
<circle cx="569.4" cy="335.8" r="3.9"/>
<circle cx="571.2" cy="334.5" r="3.9"/>
<circle cx="572.9" cy="332.6" r="3.9"/>
<circle cx="574.6" cy="332.6" r="3.9"/>
<circle cx="576.4" cy="332.0" r="3.9"/>
<circle cx="578.1" cy="330.7" r="3.9"/>
<circle cx="579.8" cy="329.8" r="3.9"/>
<circle cx="581.6" cy="329.0" r="3.9"/>
<circle cx="583.3" cy="328.0" r="3.9"/>
<circle cx="585.0" cy="328.3" r="3.9"/>
<circle cx="586.8" cy="328.3" r="3.9"/>
<circle cx="588.5" cy="328.1" r="3.9"/>
<circle cx="590.2" cy="327.0" r="3.9"/>
<circle cx="592.0" cy="327.8" r="3.9"/>
<circle cx="593.7" cy="327.0" r="3.9"/>
<circle cx="595.4" cy="327.1" r="3.9"/>
<circle cx="597.2" cy="327.5" r="3.9"/>
<circle cx="598.9" cy="326.5" r="3.9"/>
<circle cx="600.6" cy="326.3" r="3.9"/>
<circle cx="602.4" cy="327.0" r="3.9"/>
<circle cx="604.1" cy="326.0" r="3.9"/>
<circle cx="605.8" cy="325.8" r="3.9"/>
<circle cx="607.6" cy="325.8" r="3.9"/>
<circle cx="609.3" cy="325.3" r="3.9"/>
<circle cx="611.0" cy="323.7" r="3.9"/>
<circle cx="612.8" cy="323.5" r="3.9"/>
<circle cx="614.5" cy="322.2" r="3.9"/>
<circle cx="616.2" cy="319.8" r="3.9"/>
<circle cx="618.0" cy="317.2" r="3.9"/>
<circle cx="619.7" cy="316.0" r="3.9"/>
<circle cx="621.4" cy="315.2" r="3.9"/>
<circle cx="623.2" cy="313.2" r="3.9"/>
<circle cx="624.9" cy="312.4" r="3.9"/>
<circle cx="626.6" cy="311.8" r="3.9"/>
<circle cx="628.4" cy="312.0" r="3.9"/>
<circle cx="630.1" cy="312.6" r="3.9"/>
<circle cx="631.8" cy="312.1" r="3.9"/>
<circle cx="633.6" cy="313.5" r="3.9"/>
<circle cx="635.3" cy="314.7" r="3.9"/>
<circle cx="637.0" cy="315.3" r="3.9"/>
<circle cx="638.8" cy="318.0" r="3.9"/>
<circle cx="640.5" cy="318.6" r="3.9"/>
<circle cx="642.2" cy="320.1" r="3.9"/>
<circle cx="644.0" cy="320.1" r="3.9"/>
<circle cx="645.7" cy="319.0" r="3.9"/>
<circle cx="647.4" cy="317.0" r="3.9"/>
<circle cx="649.2" cy="314.0" r="3.9"/>
<circle cx="650.9" cy="310.7" r="3.9"/>
<circle cx="652.6" cy="306.4" r="3.9"/>
<circle cx="654.4" cy="303.6" r="3.9"/>
<circle cx="656.1" cy="301.5" r="3.9"/>
<circle cx="657.8" cy="299.4" r="3.9"/>
<circle cx="659.6" cy="299.9" r="3.9"/>
<circle cx="661.3" cy="300.2" r="3.9"/>
<circle cx="646.9" cy="317.5" r="3.9"/>
<circle cx="649.5" cy="313.0" r="3.9"/>
<circle cx="651.7" cy="308.6" r="3.9"/>
<circle cx="653.9" cy="304.2" r="3.9"/>
<circle cx="656.5" cy="300.5" r="3.9"/>
<circle cx="660.0" cy="300.0" r="3.9"/>
<circle cx="618.8" cy="316.8" r="3.9"/>
<circle cx="622.5" cy="313.8" r="3.9"/>
<circle cx="617.3" cy="329.3" r="3.9"/>
<circle cx="619.6" cy="324.9" r="3.9"/>
<circle cx="624.7" cy="324.2" r="3.9"/>
<circle cx="615.5" cy="326.5" r="3.9"/>
<circle cx="621.8" cy="325.5" r="3.9"/>
</g>
<text transform="translate(460.40,329.20) rotate(-90)" text-anchor="middle" font-size="20.9" fill="#262626" textLength="109.3" lengthAdjust="spacingAndGlyphs">H2OMIXRA</text>
<line x1="148.00" y1="476.26" x2="355.40" y2="476.26" stroke="#b2b2b2" stroke-width="2.0" stroke-dasharray="1.0 4.575" />
<line x1="148.00" y1="465.32" x2="355.40" y2="465.32" stroke="#b2b2b2" stroke-width="2.0" stroke-dasharray="1.0 4.575" />
<line x1="148.00" y1="454.38" x2="355.40" y2="454.38" stroke="#b2b2b2" stroke-width="2.0" stroke-dasharray="1.0 4.575" />
<line x1="148.00" y1="443.44" x2="355.40" y2="443.44" stroke="#b2b2b2" stroke-width="2.0" stroke-dasharray="1.0 4.575" />
<line x1="189.00" y1="427.40" x2="189.00" y2="487.20" stroke="#dadada" stroke-width="1.8"/>
<line x1="230.60" y1="427.40" x2="230.60" y2="487.20" stroke="#dadada" stroke-width="1.8"/>
<line x1="272.20" y1="427.40" x2="272.20" y2="487.20" stroke="#dadada" stroke-width="1.8"/>
<line x1="313.80" y1="427.40" x2="313.80" y2="487.20" stroke="#dadada" stroke-width="1.8"/>
<line x1="147.40" y1="432.50" x2="355.40" y2="432.50" stroke="#dadada" stroke-width="1.8"/>
<rect x="147.40" y="427.40" width="208.00" height="59.80" fill="none" stroke="#262626" stroke-width="2.1"/>
<line x1="189.00" y1="487.20" x2="189.00" y2="483.60" stroke="#262626" stroke-width="1.6"/>
<line x1="189.00" y1="427.40" x2="189.00" y2="431.00" stroke="#262626" stroke-width="1.6"/>
<line x1="230.60" y1="487.20" x2="230.60" y2="483.60" stroke="#262626" stroke-width="1.6"/>
<line x1="230.60" y1="427.40" x2="230.60" y2="431.00" stroke="#262626" stroke-width="1.6"/>
<line x1="272.20" y1="487.20" x2="272.20" y2="483.60" stroke="#262626" stroke-width="1.6"/>
<line x1="272.20" y1="427.40" x2="272.20" y2="431.00" stroke="#262626" stroke-width="1.6"/>
<line x1="313.80" y1="487.20" x2="313.80" y2="483.60" stroke="#262626" stroke-width="1.6"/>
<line x1="313.80" y1="427.40" x2="313.80" y2="431.00" stroke="#262626" stroke-width="1.6"/>
<line x1="147.40" y1="432.50" x2="151.00" y2="432.50" stroke="#262626" stroke-width="1.6"/>
<line x1="355.40" y1="432.50" x2="351.80" y2="432.50" stroke="#262626" stroke-width="1.6"/>
<text x="138.40" y="439.10" text-anchor="end" font-size="18.5" fill="#262626" textLength="31.7" lengthAdjust="spacingAndGlyphs">500</text>
<text x="138.40" y="493.80" text-anchor="end" font-size="18.5" fill="#262626" textLength="10.6" lengthAdjust="spacingAndGlyphs">0</text>
<g fill="none" stroke="#0072BD" stroke-width="2.1">
<circle cx="152.0" cy="487.2" r="3.9"/>
<circle cx="153.7" cy="487.2" r="3.9"/>
<circle cx="155.5" cy="487.2" r="3.9"/>
<circle cx="157.2" cy="487.2" r="3.9"/>
<circle cx="158.9" cy="487.2" r="3.9"/>
<circle cx="160.7" cy="487.2" r="3.9"/>
<circle cx="162.4" cy="487.2" r="3.9"/>
<circle cx="164.1" cy="487.2" r="3.9"/>
<circle cx="165.9" cy="487.2" r="3.9"/>
<circle cx="167.6" cy="487.2" r="3.9"/>
<circle cx="169.3" cy="487.2" r="3.9"/>
<circle cx="171.1" cy="487.2" r="3.9"/>
<circle cx="172.8" cy="487.2" r="3.9"/>
<circle cx="174.5" cy="487.2" r="3.9"/>
<circle cx="176.3" cy="487.2" r="3.9"/>
<circle cx="178.0" cy="487.2" r="3.9"/>
<circle cx="179.7" cy="487.2" r="3.9"/>
<circle cx="181.5" cy="487.2" r="3.9"/>
<circle cx="183.2" cy="487.2" r="3.9"/>
<circle cx="184.9" cy="487.2" r="3.9"/>
<circle cx="186.7" cy="487.2" r="3.9"/>
<circle cx="190.0" cy="486.5" r="3.9"/>
<circle cx="191.6" cy="484.4" r="3.9"/>
<circle cx="193.7" cy="483.0" r="3.9"/>
<circle cx="194.5" cy="474.8" r="3.9"/>
<circle cx="195.9" cy="461.1" r="3.9"/>
<circle cx="197.3" cy="438.5" r="3.9"/>
<circle cx="199.4" cy="438.5" r="3.9"/>
<circle cx="201.5" cy="437.8" r="3.9"/>
<circle cx="203.6" cy="427.4" r="3.9"/>
<circle cx="204.6" cy="428.8" r="3.9"/>
<circle cx="206.5" cy="437.8" r="3.9"/>
<circle cx="207.9" cy="456.8" r="3.9"/>
<circle cx="209.6" cy="471.3" r="3.9"/>
<circle cx="211.4" cy="481.6" r="3.9"/>
<circle cx="213.6" cy="487.2" r="3.9"/>
<circle cx="215.3" cy="487.2" r="3.9"/>
<circle cx="217.1" cy="487.2" r="3.9"/>
<circle cx="218.8" cy="487.2" r="3.9"/>
<circle cx="220.5" cy="487.2" r="3.9"/>
<circle cx="222.3" cy="487.2" r="3.9"/>
<circle cx="224.0" cy="487.2" r="3.9"/>
<circle cx="225.7" cy="487.2" r="3.9"/>
<circle cx="227.5" cy="487.2" r="3.9"/>
<circle cx="229.2" cy="487.2" r="3.9"/>
<circle cx="230.9" cy="487.2" r="3.9"/>
<circle cx="232.7" cy="487.2" r="3.9"/>
<circle cx="234.4" cy="487.2" r="3.9"/>
<circle cx="236.1" cy="487.2" r="3.9"/>
<circle cx="237.9" cy="487.2" r="3.9"/>
<circle cx="239.6" cy="487.2" r="3.9"/>
<circle cx="241.3" cy="487.2" r="3.9"/>
<circle cx="243.1" cy="487.2" r="3.9"/>
<circle cx="244.8" cy="487.2" r="3.9"/>
<circle cx="246.5" cy="487.2" r="3.9"/>
<circle cx="248.3" cy="487.2" r="3.9"/>
<circle cx="250.0" cy="487.2" r="3.9"/>
<circle cx="251.7" cy="487.2" r="3.9"/>
<circle cx="253.5" cy="487.2" r="3.9"/>
<circle cx="255.2" cy="487.2" r="3.9"/>
<circle cx="256.9" cy="487.2" r="3.9"/>
<circle cx="258.7" cy="487.2" r="3.9"/>
<circle cx="260.4" cy="487.2" r="3.9"/>
<circle cx="262.1" cy="487.2" r="3.9"/>
<circle cx="263.9" cy="487.2" r="3.9"/>
<circle cx="265.6" cy="487.2" r="3.9"/>
<circle cx="267.3" cy="487.2" r="3.9"/>
<circle cx="269.1" cy="487.2" r="3.9"/>
<circle cx="270.8" cy="487.2" r="3.9"/>
<circle cx="272.5" cy="487.2" r="3.9"/>
<circle cx="274.3" cy="487.2" r="3.9"/>
<circle cx="276.5" cy="485.0" r="3.9"/>
<circle cx="278.3" cy="482.5" r="3.9"/>
<circle cx="280.5" cy="481.0" r="3.9"/>
<circle cx="282.0" cy="484.5" r="3.9"/>
<circle cx="283.4" cy="486.2" r="3.9"/>
<circle cx="285.5" cy="487.0" r="3.9"/>
<circle cx="287.9" cy="487.0" r="3.9"/>
<circle cx="290.8" cy="487.0" r="3.9"/>
<circle cx="291.1" cy="476.6" r="3.9"/>
<circle cx="292.3" cy="467.0" r="3.9"/>
<circle cx="295.3" cy="459.6" r="3.9"/>
<circle cx="296.4" cy="460.3" r="3.9"/>
<circle cx="297.9" cy="469.9" r="3.9"/>
<circle cx="300.0" cy="478.0" r="3.9"/>
<circle cx="301.2" cy="485.4" r="3.9"/>
<circle cx="302.9" cy="487.2" r="3.9"/>
<circle cx="304.6" cy="487.2" r="3.9"/>
<circle cx="306.4" cy="487.2" r="3.9"/>
<circle cx="308.1" cy="487.2" r="3.9"/>
<circle cx="309.8" cy="487.2" r="3.9"/>
<circle cx="311.6" cy="487.2" r="3.9"/>
<circle cx="314.6" cy="486.0" r="3.9"/>
<circle cx="316.0" cy="484.7" r="3.9"/>
<circle cx="317.6" cy="484.0" r="3.9"/>
<circle cx="318.9" cy="483.7" r="3.9"/>
<circle cx="319.6" cy="484.7" r="3.9"/>
</g>
<text transform="translate(86.1,457.0) rotate(-90)" font-size="20.9" fill="#262626"><tspan x="-44.6" textLength="51" lengthAdjust="spacingAndGlyphs">TERR</tspan><tspan x="8.1" dy="9.6" font-size="15.5" textLength="12.2" lengthAdjust="spacingAndGlyphs">M</tspan><tspan x="22.4" dy="-9.6" textLength="22" lengthAdjust="spacingAndGlyphs">SL</tspan></text>
<line x1="491.10" y1="482.92" x2="698.50" y2="482.92" stroke="#b2b2b2" stroke-width="2.0" stroke-dasharray="1.0 4.575" />
<line x1="491.10" y1="478.64" x2="698.50" y2="478.64" stroke="#b2b2b2" stroke-width="2.0" stroke-dasharray="1.0 4.575" />
<line x1="491.10" y1="474.36" x2="698.50" y2="474.36" stroke="#b2b2b2" stroke-width="2.0" stroke-dasharray="1.0 4.575" />
<line x1="491.10" y1="470.08" x2="698.50" y2="470.08" stroke="#b2b2b2" stroke-width="2.0" stroke-dasharray="1.0 4.575" />
<line x1="491.10" y1="461.52" x2="698.50" y2="461.52" stroke="#b2b2b2" stroke-width="2.0" stroke-dasharray="1.0 4.575" />
<line x1="491.10" y1="457.24" x2="698.50" y2="457.24" stroke="#b2b2b2" stroke-width="2.0" stroke-dasharray="1.0 4.575" />
<line x1="491.10" y1="452.96" x2="698.50" y2="452.96" stroke="#b2b2b2" stroke-width="2.0" stroke-dasharray="1.0 4.575" />
<line x1="491.10" y1="448.68" x2="698.50" y2="448.68" stroke="#b2b2b2" stroke-width="2.0" stroke-dasharray="1.0 4.575" />
<line x1="491.10" y1="440.12" x2="698.50" y2="440.12" stroke="#b2b2b2" stroke-width="2.0" stroke-dasharray="1.0 4.575" />
<line x1="491.10" y1="435.84" x2="698.50" y2="435.84" stroke="#b2b2b2" stroke-width="2.0" stroke-dasharray="1.0 4.575" />
<line x1="491.10" y1="431.56" x2="698.50" y2="431.56" stroke="#b2b2b2" stroke-width="2.0" stroke-dasharray="1.0 4.575" />
<line x1="532.10" y1="427.40" x2="532.10" y2="487.20" stroke="#dadada" stroke-width="1.8"/>
<line x1="573.70" y1="427.40" x2="573.70" y2="487.20" stroke="#dadada" stroke-width="1.8"/>
<line x1="615.30" y1="427.40" x2="615.30" y2="487.20" stroke="#dadada" stroke-width="1.8"/>
<line x1="656.90" y1="427.40" x2="656.90" y2="487.20" stroke="#dadada" stroke-width="1.8"/>
<line x1="490.50" y1="444.40" x2="698.50" y2="444.40" stroke="#dadada" stroke-width="1.8"/>
<line x1="490.50" y1="465.80" x2="698.50" y2="465.80" stroke="#dadada" stroke-width="1.8"/>
<rect x="490.50" y="427.40" width="208.00" height="59.80" fill="none" stroke="#262626" stroke-width="2.1"/>
<line x1="532.10" y1="487.20" x2="532.10" y2="483.60" stroke="#262626" stroke-width="1.6"/>
<line x1="532.10" y1="427.40" x2="532.10" y2="431.00" stroke="#262626" stroke-width="1.6"/>
<line x1="573.70" y1="487.20" x2="573.70" y2="483.60" stroke="#262626" stroke-width="1.6"/>
<line x1="573.70" y1="427.40" x2="573.70" y2="431.00" stroke="#262626" stroke-width="1.6"/>
<line x1="615.30" y1="487.20" x2="615.30" y2="483.60" stroke="#262626" stroke-width="1.6"/>
<line x1="615.30" y1="427.40" x2="615.30" y2="431.00" stroke="#262626" stroke-width="1.6"/>
<line x1="656.90" y1="487.20" x2="656.90" y2="483.60" stroke="#262626" stroke-width="1.6"/>
<line x1="656.90" y1="427.40" x2="656.90" y2="431.00" stroke="#262626" stroke-width="1.6"/>
<line x1="490.50" y1="444.40" x2="494.10" y2="444.40" stroke="#262626" stroke-width="1.6"/>
<line x1="698.50" y1="444.40" x2="694.90" y2="444.40" stroke="#262626" stroke-width="1.6"/>
<line x1="490.50" y1="465.80" x2="494.10" y2="465.80" stroke="#262626" stroke-width="1.6"/>
<line x1="698.50" y1="465.80" x2="694.90" y2="465.80" stroke="#262626" stroke-width="1.6"/>
<text x="481.50" y="451.00" text-anchor="end" font-size="18.5" fill="#262626" textLength="31.7" lengthAdjust="spacingAndGlyphs">100</text>
<text x="481.50" y="472.40" text-anchor="end" font-size="18.5" fill="#262626" textLength="21.1" lengthAdjust="spacingAndGlyphs">50</text>
<text x="481.50" y="493.80" text-anchor="end" font-size="18.5" fill="#262626" textLength="10.6" lengthAdjust="spacingAndGlyphs">0</text>
<g fill="none" stroke="#0072BD" stroke-width="2.1">
<circle cx="494.9" cy="487.2" r="3.9"/>
<circle cx="496.6" cy="487.0" r="3.9"/>
<circle cx="498.4" cy="487.1" r="3.9"/>
<circle cx="500.1" cy="486.9" r="3.9"/>
<circle cx="501.8" cy="486.7" r="3.9"/>
<circle cx="503.6" cy="486.4" r="3.9"/>
<circle cx="505.3" cy="486.1" r="3.9"/>
<circle cx="507.0" cy="484.6" r="3.9"/>
<circle cx="508.8" cy="482.8" r="3.9"/>
<circle cx="510.5" cy="481.7" r="3.9"/>
<circle cx="512.2" cy="481.3" r="3.9"/>
<circle cx="514.0" cy="481.6" r="3.9"/>
<circle cx="515.7" cy="482.7" r="3.9"/>
<circle cx="517.4" cy="482.8" r="3.9"/>
<circle cx="519.2" cy="483.6" r="3.9"/>
<circle cx="520.9" cy="484.5" r="3.9"/>
<circle cx="522.6" cy="485.1" r="3.9"/>
<circle cx="524.4" cy="485.7" r="3.9"/>
<circle cx="526.1" cy="486.1" r="3.9"/>
<circle cx="527.8" cy="486.3" r="3.9"/>
<circle cx="529.6" cy="486.5" r="3.9"/>
<circle cx="531.3" cy="486.7" r="3.9"/>
<circle cx="533.0" cy="486.9" r="3.9"/>
<circle cx="534.8" cy="487.2" r="3.9"/>
<circle cx="536.5" cy="487.1" r="3.9"/>
<circle cx="538.2" cy="486.8" r="3.9"/>
<circle cx="540.0" cy="486.8" r="3.9"/>
<circle cx="541.7" cy="486.4" r="3.9"/>
<circle cx="543.4" cy="485.7" r="3.9"/>
<circle cx="545.8" cy="484.4" r="3.9"/>
<circle cx="548.6" cy="479.5" r="3.9"/>
<circle cx="550.1" cy="473.8" r="3.9"/>
<circle cx="551.5" cy="467.5" r="3.9"/>
<circle cx="553.6" cy="463.2" r="3.9"/>
<circle cx="555.7" cy="460.4" r="3.9"/>
<circle cx="557.8" cy="459.0" r="3.9"/>
<circle cx="560.0" cy="461.1" r="3.9"/>
<circle cx="561.4" cy="463.2" r="3.9"/>
<circle cx="563.5" cy="468.9" r="3.9"/>
<circle cx="564.9" cy="474.5" r="3.9"/>
<circle cx="566.3" cy="480.2" r="3.9"/>
<circle cx="568.5" cy="485.1" r="3.9"/>
<circle cx="552.5" cy="465.5" r="3.9"/>
<circle cx="562.4" cy="466.0" r="3.9"/>
<circle cx="570.3" cy="486.6" r="3.9"/>
<circle cx="572.0" cy="487.0" r="3.9"/>
<circle cx="573.8" cy="487.2" r="3.9"/>
<circle cx="575.5" cy="487.2" r="3.9"/>
<circle cx="577.2" cy="487.2" r="3.9"/>
<circle cx="579.0" cy="487.2" r="3.9"/>
<circle cx="580.7" cy="487.2" r="3.9"/>
<circle cx="582.4" cy="487.2" r="3.9"/>
<circle cx="585.8" cy="484.5" r="3.9"/>
<circle cx="587.6" cy="481.7" r="3.9"/>
<circle cx="589.8" cy="479.5" r="3.9"/>
<circle cx="591.0" cy="468.4" r="3.9"/>
<circle cx="592.7" cy="454.4" r="3.9"/>
<circle cx="594.2" cy="442.6" r="3.9"/>
<circle cx="595.7" cy="438.9" r="3.9"/>
<circle cx="597.2" cy="434.4" r="3.9"/>
<circle cx="598.4" cy="431.0" r="3.9"/>
<circle cx="599.7" cy="427.3" r="3.9"/>
<circle cx="601.6" cy="435.2" r="3.9"/>
<circle cx="603.4" cy="445.5" r="3.9"/>
<circle cx="605.0" cy="455.1" r="3.9"/>
<circle cx="606.8" cy="467.0" r="3.9"/>
<circle cx="608.7" cy="477.3" r="3.9"/>
<circle cx="610.5" cy="486.2" r="3.9"/>
<circle cx="612.2" cy="487.2" r="3.9"/>
<circle cx="613.9" cy="487.2" r="3.9"/>
<circle cx="615.7" cy="487.2" r="3.9"/>
<circle cx="617.4" cy="487.2" r="3.9"/>
<circle cx="619.1" cy="487.2" r="3.9"/>
<circle cx="620.9" cy="487.2" r="3.9"/>
<circle cx="622.6" cy="487.2" r="3.9"/>
<circle cx="625.6" cy="484.5" r="3.9"/>
<circle cx="627.5" cy="481.0" r="3.9"/>
<circle cx="629.7" cy="476.6" r="3.9"/>
<circle cx="631.9" cy="469.9" r="3.9"/>
<circle cx="633.0" cy="465.5" r="3.9"/>
<circle cx="634.1" cy="467.0" r="3.9"/>
<circle cx="636.3" cy="460.3" r="3.9"/>
<circle cx="637.5" cy="465.0" r="3.9"/>
<circle cx="638.6" cy="467.7" r="3.9"/>
<circle cx="639.7" cy="470.0" r="3.9"/>
<circle cx="640.8" cy="472.1" r="3.9"/>
<circle cx="643.0" cy="475.1" r="3.9"/>
<circle cx="645.2" cy="478.8" r="3.9"/>
<circle cx="647.4" cy="482.5" r="3.9"/>
<circle cx="649.0" cy="484.6" r="3.9"/>
<circle cx="650.4" cy="486.2" r="3.9"/>
<circle cx="652.1" cy="487.2" r="3.9"/>
<circle cx="653.8" cy="487.2" r="3.9"/>
<circle cx="655.6" cy="487.2" r="3.9"/>
<circle cx="657.3" cy="487.2" r="3.9"/>
<circle cx="659.0" cy="487.2" r="3.9"/>
<circle cx="660.8" cy="487.2" r="3.9"/>
</g>
<text transform="translate(399.5,457.1) rotate(-90)" font-size="20.9" fill="#262626"><tspan x="-46.4" textLength="41.3" lengthAdjust="spacingAndGlyphs">SUN</tspan><tspan x="-0.5" dy="9.2" font-size="15.5" textLength="8" lengthAdjust="spacingAndGlyphs">F</tspan><tspan x="9.3" dy="-9.2" textLength="37" lengthAdjust="spacingAndGlyphs">LUX</tspan></text>
<text transform="translate(159.70,509.3) rotate(-45)" text-anchor="end" font-size="18.5" fill="#262626" textLength="49.3" lengthAdjust="spacingAndGlyphs">11/19</text>
<text transform="translate(201.30,509.3) rotate(-45)" text-anchor="end" font-size="18.5" fill="#262626" textLength="49.3" lengthAdjust="spacingAndGlyphs">11/20</text>
<text transform="translate(242.90,509.3) rotate(-45)" text-anchor="end" font-size="18.5" fill="#262626" textLength="49.3" lengthAdjust="spacingAndGlyphs">11/21</text>
<text transform="translate(284.50,509.3) rotate(-45)" text-anchor="end" font-size="18.5" fill="#262626" textLength="49.3" lengthAdjust="spacingAndGlyphs">11/22</text>
<text transform="translate(326.10,509.3) rotate(-45)" text-anchor="end" font-size="18.5" fill="#262626" textLength="49.3" lengthAdjust="spacingAndGlyphs">11/23</text>
<text transform="translate(367.70,509.3) rotate(-45)" text-anchor="end" font-size="18.5" fill="#262626" textLength="49.3" lengthAdjust="spacingAndGlyphs">11/24</text>
<text transform="translate(503.70,509.3) rotate(-45)" text-anchor="end" font-size="18.5" fill="#262626" textLength="49.3" lengthAdjust="spacingAndGlyphs">11/19</text>
<text transform="translate(545.30,509.3) rotate(-45)" text-anchor="end" font-size="18.5" fill="#262626" textLength="49.3" lengthAdjust="spacingAndGlyphs">11/20</text>
<text transform="translate(586.90,509.3) rotate(-45)" text-anchor="end" font-size="18.5" fill="#262626" textLength="49.3" lengthAdjust="spacingAndGlyphs">11/21</text>
<text transform="translate(628.50,509.3) rotate(-45)" text-anchor="end" font-size="18.5" fill="#262626" textLength="49.3" lengthAdjust="spacingAndGlyphs">11/22</text>
<text transform="translate(670.10,509.3) rotate(-45)" text-anchor="end" font-size="18.5" fill="#262626" textLength="49.3" lengthAdjust="spacingAndGlyphs">11/23</text>
<text transform="translate(711.70,509.3) rotate(-45)" text-anchor="end" font-size="18.5" fill="#262626" textLength="49.3" lengthAdjust="spacingAndGlyphs">11/24</text>
<text x="250.75" y="575.7" text-anchor="middle" font-size="20.9" fill="#262626" textLength="51" lengthAdjust="spacingAndGlyphs">Time</text>
<text x="595.4" y="575.7" text-anchor="middle" font-size="20.9" fill="#262626" textLength="51" lengthAdjust="spacingAndGlyphs">Time</text>
<text x="251.75" y="31.7" text-anchor="middle" font-size="20.2" font-weight="bold" fill="#000" textLength="130.3" lengthAdjust="spacingAndGlyphs">Figure 3 low</text>
</svg>
</body></html>
